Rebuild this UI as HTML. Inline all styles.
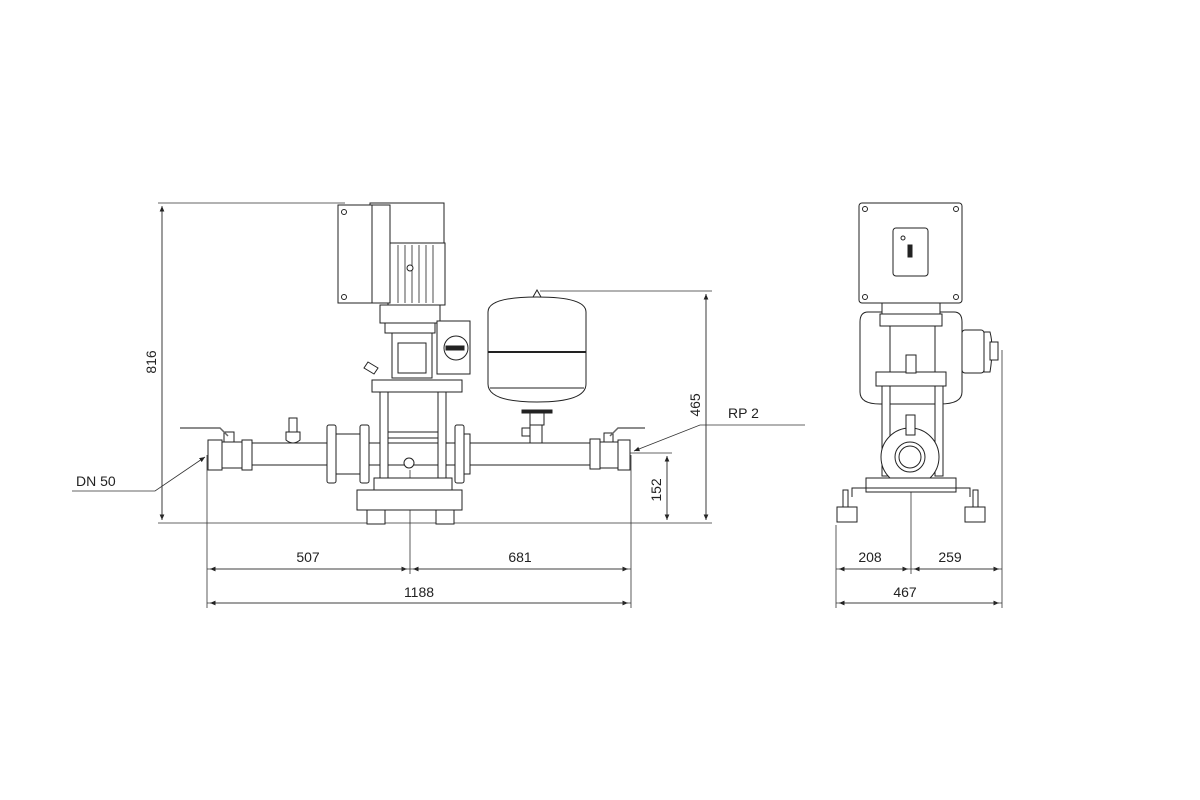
<!DOCTYPE html>
<html><head><style>
html,body{margin:0;padding:0;background:#fff;width:1200px;height:800px;overflow:hidden}
svg{display:block}
text{font-family:"Liberation Sans",sans-serif;font-size:14px;fill:#222}
</style></head><body>
<svg width="1200" height="800" viewBox="0 0 1200 800" xmlns="http://www.w3.org/2000/svg">
<defs>
<marker id="a" markerWidth="8" markerHeight="8" refX="7" refY="3" orient="auto"><path d="M0,0 L7,3 L0,6z" fill="#222"/></marker>
</defs>
<g stroke="#333" stroke-width="0.8" fill="none">
<!-- extension lines -->
<line x1="158" y1="203" x2="345" y2="203"/>
<line x1="158" y1="523" x2="712" y2="523"/>
<line x1="540" y1="291" x2="712" y2="291"/>
<line x1="630" y1="453" x2="672" y2="453"/>
<line x1="207" y1="455" x2="207" y2="608"/>
<line x1="410" y1="470" x2="410" y2="574"/>
<line x1="631" y1="455" x2="631" y2="608"/>
<line x1="836" y1="525" x2="836" y2="608"/>
<line x1="911" y1="455" x2="911" y2="574"/>
<line x1="1002" y1="350" x2="1002" y2="608"/>
<!-- dim lines -->
<line x1="162" y1="207" x2="162" y2="520" marker-end="url(#a)"/>
<line x1="162" y1="520" x2="162" y2="206" marker-end="url(#a)"/>
<line x1="706" y1="294" x2="706" y2="520" marker-end="url(#a)"/>
<line x1="706" y1="520" x2="706" y2="294" marker-end="url(#a)"/>
<line x1="667" y1="456" x2="667" y2="520" marker-end="url(#a)"/>
<line x1="667" y1="520" x2="667" y2="456" marker-end="url(#a)"/>
<line x1="207" y1="569" x2="407" y2="569" marker-end="url(#a)"/>
<line x1="410" y1="569" x2="210" y2="569" marker-end="url(#a)"/>
<line x1="410" y1="569" x2="628" y2="569" marker-end="url(#a)"/>
<line x1="631" y1="569" x2="413" y2="569" marker-end="url(#a)"/>
<line x1="207" y1="603" x2="628" y2="603" marker-end="url(#a)"/>
<line x1="631" y1="603" x2="210" y2="603" marker-end="url(#a)"/>
<line x1="836" y1="569" x2="908" y2="569" marker-end="url(#a)"/>
<line x1="911" y1="569" x2="839" y2="569" marker-end="url(#a)"/>
<line x1="911" y1="569" x2="999" y2="569" marker-end="url(#a)"/>
<line x1="1002" y1="569" x2="914" y2="569" marker-end="url(#a)"/>
<line x1="836" y1="603" x2="999" y2="603" marker-end="url(#a)"/>
<line x1="1002" y1="603" x2="839" y2="603" marker-end="url(#a)"/>
<!-- leaders -->
<polyline points="72,491 155,491 205,457" marker-end="url(#a)"/>
<polyline points="805,425 700,425 634,451" marker-end="url(#a)"/>
</g>
<text x="76" y="486">DN 50</text>
<text x="728" y="418">RP 2</text>
<text x="308" y="562" text-anchor="middle">507</text>
<text x="520" y="562" text-anchor="middle">681</text>
<text x="419" y="597" text-anchor="middle">1188</text>
<text x="870" y="562" text-anchor="middle">208</text>
<text x="950" y="562" text-anchor="middle">259</text>
<text x="905" y="597" text-anchor="middle">467</text>
<text transform="translate(156,362) rotate(-90)" text-anchor="middle">816</text>
<text transform="translate(700,405) rotate(-90)" text-anchor="middle">465</text>
<text transform="translate(661,490) rotate(-90)" text-anchor="middle">152</text>

<!-- FRONT VIEW -->
<g stroke="#222" stroke-width="1" fill="#fff">
<!-- pipes -->
<rect x="250" y="443" width="80" height="22"/>
<rect x="470" y="443" width="125" height="22"/>
<rect x="334" y="443" width="136" height="22"/>
<!-- valves -->
<rect x="208" y="440" width="14" height="30"/><rect x="222" y="442" width="20" height="26"/><rect x="242" y="440" width="10" height="30"/>
<rect x="224" y="432" width="10" height="10"/>
<polyline points="180,428 220,428 228,436" fill="none" stroke-width="1.5" stroke="#666"/>
<rect x="590" y="439" width="10" height="30"/><rect x="600" y="442" width="18" height="26"/><rect x="618" y="440" width="12" height="30"/>
<rect x="604" y="433" width="9" height="9"/>
<polyline points="645,428 618,428 610,436" fill="none" stroke-width="1.5" stroke="#666"/>
<rect x="289" y="418" width="8" height="14"/><path d="M286,432 h14 v8 q-7,6 -14,0z"/>
<!-- flanges -->
<rect x="327" y="425" width="9" height="58" rx="2"/>
<rect x="336" y="434" width="24" height="40"/>
<rect x="360" y="425" width="9" height="58" rx="2"/>
<rect x="455" y="425" width="9" height="58" rx="2"/>
<rect x="464" y="434" width="6" height="40"/>
<!-- pump column -->
<rect x="372" y="380" width="90" height="12"/>
<rect x="380" y="392" width="8" height="86"/><rect x="438" y="392" width="8" height="86"/>
<rect x="388" y="432" width="50" height="6"/>
<rect x="374" y="478" width="78" height="12"/>
<rect x="357" y="490" width="105" height="20"/>
<rect x="367" y="510" width="18" height="14"/><rect x="436" y="510" width="18" height="14"/>
<circle cx="409" cy="463" r="5"/>
<!-- motor -->
<rect x="380" y="305" width="60" height="18"/>
<rect x="385" y="323" width="50" height="10"/>
<rect x="392" y="333" width="40" height="45"/>
<rect x="398" y="343" width="28" height="30"/>
<path d="M368,362 l10,6 l-4,6 l-10,-6z"/>
<rect x="437" y="321" width="33" height="53"/>
<circle cx="456" cy="348" r="12"/><rect x="446" y="346" width="18" height="4" fill="#222"/>
<rect x="388" y="243" width="57" height="62"/>
<g stroke-width="0.8">
<line x1="398" y1="245" x2="398" y2="303"/><line x1="405" y1="245" x2="405" y2="303"/><line x1="412" y1="245" x2="412" y2="303"/><line x1="419" y1="245" x2="419" y2="303"/><line x1="426" y1="245" x2="426" y2="303"/><line x1="433" y1="245" x2="433" y2="303"/>
</g>
<circle cx="410" cy="268" r="3"/>
<rect x="370" y="203" width="74" height="40"/>
<rect x="338" y="205" width="34" height="98"/>
<rect x="372" y="205" width="18" height="98"/>
<circle cx="344" cy="212" r="2.5"/><circle cx="344" cy="297" r="2.5"/>
<!-- tank -->
<path d="M533,297 l4,-7 l4,7"/>
<path d="M488,312 q0,-15 49,-15 q49,0 49,15 v72 q0,18 -49,18 q-49,0 -49,-18z"/>
<line x1="488" y1="352" x2="586" y2="352" stroke-width="2"/>
<line x1="490" y1="388" x2="584" y2="388"/>
<rect x="522" y="410" width="30" height="3" fill="#222"/>
<rect x="530" y="413" width="14" height="12"/>
<rect x="530" y="425" width="12" height="18"/>
<rect x="522" y="428" width="8" height="8"/>
</g>

<!-- SIDE VIEW -->
<g stroke="#222" stroke-width="1" fill="#fff">
<path d="M868,312 q-8,0 -8,10 v70 q0,12 20,12 h60 q22,0 22,-12 v-70 q0,-10 -8,-10z"/>
<rect x="962" y="330" width="22" height="43" rx="3"/>
<path d="M984,332 h6 q4,15 0,40 h-6z"/>
<rect x="990" y="342" width="8" height="18"/>
<rect x="882" y="300" width="58" height="14"/>
<rect x="880" y="314" width="62" height="12"/>
<rect x="876" y="372" width="70" height="14"/>
<rect x="882" y="386" width="8" height="90"/><rect x="935" y="386" width="8" height="90"/>
<path d="M890,326 v46 M935,326 v46"/>
<rect x="906" y="355" width="10" height="18"/>
<circle cx="910" cy="457" r="29"/>
<circle cx="910" cy="457" r="15"/><circle cx="910" cy="457" r="11"/>
<rect x="906" y="415" width="9" height="20"/>
<rect x="866" y="478" width="90" height="14"/>
<polyline points="852,497 852,488 970,488 970,497" fill="none"/>
<rect x="837" y="507" width="20" height="15"/><rect x="965" y="507" width="20" height="15"/>
<rect x="843" y="490" width="5" height="17"/><rect x="973" y="490" width="5" height="17"/>
<rect x="859" y="203" width="103" height="100" rx="3"/>
<circle cx="865" cy="209" r="2.5"/><circle cx="956" cy="209" r="2.5"/><circle cx="865" cy="297" r="2.5"/><circle cx="956" cy="297" r="2.5"/>
<rect x="893" y="228" width="35" height="48" rx="3"/>
<circle cx="903" cy="238" r="2"/>
<rect x="908" y="245" width="4" height="12" fill="#222"/>
</g>
</svg>
</body></html>
